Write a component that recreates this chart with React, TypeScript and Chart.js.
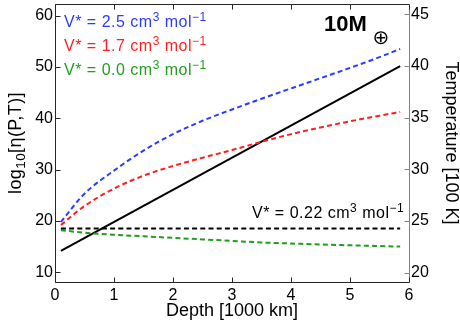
import React, { useEffect, useRef } from 'react';
import { Chart, registerables } from 'chart.js';

Chart.register(...registerables);

// Depth [1000 km]
const depth = [0.1, 0.5, 1.0, 1.5, 2.0, 2.5, 3.0, 3.5, 4.0, 4.5, 5.0, 5.5, 5.85];
// log10 viscosity for each activation volume
const etaV25 = [19.8, 25.3, 29.8, 33.7, 36.9, 39.5, 41.7, 43.8, 45.8, 47.8, 49.8, 51.9, 53.5];
const etaV17 = [19.2, 22.9, 26.3, 28.8, 30.7, 32.3, 33.8, 35.4, 36.9, 38.2, 39.4, 40.5, 41.2];
const etaV00 = [18.2, 17.7, 17.3, 17.0, 16.7, 16.4, 16.1, 15.8, 15.6, 15.4, 15.25, 15.1, 15.0];
const etaV022Depth = [0.1, 5.85];
const etaV022 = [18.5, 18.5];
// Temperature [100 K]
const tempDepth = [0.1, 5.85];
const temperature = [22.1, 40.0];

const xTicks = [0, 1, 2, 3, 4, 5, 6];
const leftTicks = [10, 20, 30, 40, 50, 60];
const rightTicks = [20, 25, 30, 35, 40, 45];

const legendValues = ['2.5', '1.7', '0.0'];
const legendColors = ['#2a3cff', '#ff1f1f', '#1f9e1f'];
const blackLabelValue = '0.22';

const FONT = '"Liberation Sans", Arial, Helvetica, sans-serif';

type Part = { t: string; s?: 'sup' | 'sub' };

function rich(ctx: CanvasRenderingContext2D, parts: Part[], x: number, y: number, size: number, spacing: number, draw = true) {
  let cx = x;
  (ctx as any).letterSpacing = `${spacing}px`;
  for (const p of parts) {
    const fs = p.s ? size * 0.75 : size;
    ctx.font = `${fs}px ${FONT}`;
    const dy = p.s === 'sup' ? -size * 0.37 : p.s === 'sub' ? size * 0.25 : 0;
    if (draw) ctx.fillText(p.t, cx, y + dy);
    cx += ctx.measureText(p.t).width;
  }
  (ctx as any).letterSpacing = '0px';
  return cx - x;
}

const unitParts = (v: string): Part[] => [
  { t: `V* = ${v} cm` },
  { t: '3', s: 'sup' },
  { t: ' mol' },
  { t: '\u22121', s: 'sup' },
];

const annotPlugin = {
  id: 'annot',
  afterDraw(chart: any) {
    const { ctx, chartArea: a } = chart;
    const xs = chart.scales.x;
    const yl = chart.scales.yL;
    const yr = chart.scales.yR;
    ctx.save();
    ctx.lineWidth = 1;
    const L = a.left + 0.5;
    const R = a.right + 0.5;
    const T = a.top + 0.5;
    const B = a.bottom + 0.5;
    const tl = 5;
    // frame
    ctx.strokeStyle = '#262626';
    ctx.beginPath();
    ctx.moveTo(R, T); ctx.lineTo(L, T); ctx.lineTo(L, B); ctx.lineTo(R, B);
    ctx.stroke();
    ctx.strokeStyle = '#808080';
    ctx.beginPath();
    ctx.moveTo(R, T); ctx.lineTo(R, B);
    ctx.stroke();
    // ticks
    ctx.strokeStyle = '#262626';
    ctx.beginPath();
    for (const v of xTicks) {
      const px = Math.round(xs.getPixelForValue(v)) + 0.5;
      ctx.moveTo(px, B); ctx.lineTo(px, B - tl);
      ctx.moveTo(px, T); ctx.lineTo(px, T + tl);
    }
    for (const v of leftTicks) {
      const py = Math.round(yl.getPixelForValue(v)) + 0.5;
      ctx.moveTo(L, py); ctx.lineTo(L + tl, py);
    }
    ctx.stroke();
    ctx.strokeStyle = '#808080';
    ctx.beginPath();
    for (const v of rightTicks) {
      const py = Math.round(yr.getPixelForValue(v)) + 0.5;
      ctx.moveTo(R, py); ctx.lineTo(R - tl, py);
    }
    ctx.stroke();

    // legend texts
    ctx.textBaseline = 'alphabetic';
    ctx.textAlign = 'left';
    const baselines = [26.7, 51, 74.5];
    legendValues.forEach((v, i) => {
      ctx.fillStyle = legendColors[i];
      rich(ctx, unitParts(v), a.left + 9, baselines[i], 16, 0.5);
    });
    ctx.fillStyle = '#000';
    rich(ctx, unitParts(blackLabelValue), 252, 217.7, 16, 0.5);

    // 10 M_earth
    ctx.font = `bold 22px ${FONT}`;
    ctx.fillText('10M', 324, 31);
    ctx.font = `20px "DejaVu Sans", sans-serif`;
    ctx.textAlign = 'center';
    ctx.textBaseline = 'middle';
    ctx.fillText('\u2295', 381, 38.5);

    // left axis title with subscript
    const titleParts: Part[] = [{ t: 'log' }, { t: '10', s: 'sub' }, { t: '[\u03b7(P,T)]' }];
    ctx.textAlign = 'left';
    ctx.textBaseline = 'alphabetic';
    const w = rich(ctx, titleParts, 0, 0, 18, 0.4, false);
    ctx.translate(20.5, (a.top + a.bottom) / 2);
    ctx.rotate(-Math.PI / 2);
    ctx.fillStyle = '#000';
    rich(ctx, titleParts, -w / 2, 0, 18, 0.4);
    ctx.restore();
  },
};

export default function App() {
  const ref = useRef<HTMLCanvasElement | null>(null);
  useEffect(() => {
    if (!ref.current) return;
    Chart.defaults.font.family = FONT;
    Chart.defaults.color = '#000';
    const toXY = (xsArr: number[], ysArr: number[]) => xsArr.map((x, i) => ({ x, y: ysArr[i] }));
    const dashed = { borderWidth: 2, borderDash: [5, 3.2], pointRadius: 0, fill: false, cubicInterpolationMode: 'monotone' as const };
    const chart = new Chart(ref.current, {
      type: 'line',
      data: {
        datasets: [
          { ...dashed, data: toXY(etaV022Depth, etaV022), borderColor: '#000', yAxisID: 'yL' },
          { ...dashed, data: toXY(depth, etaV00), borderColor: legendColors[2], yAxisID: 'yL' },
          { ...dashed, data: toXY(depth, etaV17), borderColor: legendColors[1], yAxisID: 'yL' },
          { ...dashed, data: toXY(depth, etaV25), borderColor: legendColors[0], yAxisID: 'yL' },
          { data: toXY(tempDepth, temperature), borderColor: '#000', borderWidth: 2, pointRadius: 0, fill: false, yAxisID: 'yR' },
        ],
      },
      options: {
        animation: false,
        responsive: false,
        maintainAspectRatio: false,
        layout: { padding: { top: 4, left: 0, right: 0, bottom: 0 } },
        plugins: { legend: { display: false }, tooltip: { enabled: false } },
        scales: {
          x: {
            type: 'linear',
            position: 'bottom',
            min: 0,
            max: 6,
            afterBuildTicks: (s: any) => { s.ticks = xTicks.map((v) => ({ value: v })); },
            afterFit: (s: any) => { s.height = 50; s.paddingLeft = 0; s.paddingRight = 0; s.paddingTop = 0; s.paddingBottom = 0; },
            grid: { display: false, drawTicks: false },
            border: { display: false },
            ticks: { padding: 4, font: { size: 16 }, color: '#000', maxRotation: 0, autoSkip: false },
            title: { display: true, text: 'Depth [1000 km]', color: '#000', font: { size: 18, lineHeight: 1 }, padding: { top: 0, bottom: 11.5 } },
          },
          yL: {
            type: 'linear',
            position: 'left',
            min: 8.1,
            max: 62.25,
            afterBuildTicks: (s: any) => { s.ticks = leftTicks.map((v) => ({ value: v })); },
            afterFit: (s: any) => { s.width = 55; s.paddingLeft = 0; s.paddingRight = 0; s.paddingTop = 0; s.paddingBottom = 0; },
            grid: { display: false, drawTicks: false },
            border: { display: false },
            ticks: { padding: 2, font: { size: 16 }, color: '#000', autoSkip: false },
          },
          yR: {
            type: 'linear',
            position: 'right',
            min: 19.1,
            max: 46.0,
            afterBuildTicks: (s: any) => { s.ticks = rightTicks.map((v) => ({ value: v })); },
            afterFit: (s: any) => { s.width = 51; s.paddingLeft = 0; s.paddingRight = 0; s.paddingTop = 0; s.paddingBottom = 0; },
            grid: { display: false, drawTicks: false },
            border: { display: false },
            ticks: { padding: 2, font: { size: 16 }, color: '#000', autoSkip: false },
            title: { display: true, text: 'Temperature [100 K]', color: '#000', font: { size: 18, lineHeight: 1 }, padding: { top: 0, bottom: 0 } },
          },
        },
      },
      plugins: [annotPlugin],
    });
    return () => chart.destroy();
  }, []);
  return (
    <div style={{ position: 'absolute', left: 0, top: 0, width: 460, height: 332, background: '#fff' }}>
      <canvas ref={ref} width={460} height={332} style={{ display: 'block', width: 460, height: 332 }} />
    </div>
  );
}
